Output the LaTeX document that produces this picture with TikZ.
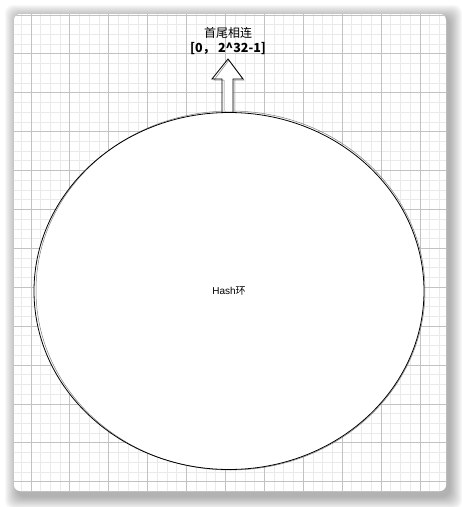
\documentclass[tikz,border=0pt]{standalone}
\usepackage{fontspec}
\setmainfont{Liberation Sans}
\newfontfamily\cjk{Noto Sans CJK SC}
\usepackage{tikz}
\usetikzlibrary{positioning,calc}
\definecolor{minorgrid}{HTML}{EAEAEA}
\definecolor{majorgrid}{HTML}{C2C2C2}

\begin{document}
\begin{tikzpicture}[x=1pt,y=-1pt,
    sketch/.style={draw=black,line width=0.8pt},
    sketchb/.style={draw=black!50,line width=0.5pt},
    lbl/.style={font=\cjk\fontsize{12}{14}\selectfont,inner sep=1pt}]
  \useasboundingbox (0,0) rectangle (462,507);
  % shadow
  \foreach \o in {1,...,13}
    \fill[black,opacity=0.028,rounded corners=8pt] ({18-\o},{18-\o}) rectangle ({449+\o},{496+\o});
  % paper with grid
  \fill[white,rounded corners=6pt] (14,14) rectangle (446,491);
  \begin{scope}
    \clip[rounded corners=6pt] (14,14) rectangle (446,491);
    \foreach \i in {-4,...,44}
      \draw[minorgrid,line width=0.9pt] ({31+9.725*\i},14) -- ({31+9.725*\i},492);
    \foreach \i in {-2,...,49}
      \draw[minorgrid,line width=0.9pt] (14,{15+9.725*\i}) -- (446,{15+9.725*\i});
    \foreach \i in {-1,...,11}
      \draw[majorgrid,line width=0.9pt] ({31+38.9*\i},14) -- ({31+38.9*\i},492);
    \foreach \i in {0,...,12}
      \draw[majorgrid,line width=0.9pt] (14,{15+38.9*\i}) -- (446,{15+38.9*\i});
  \end{scope}

  % ring
  \node (ring) at (229,291) {};
  \fill[white] (ring) ellipse (195 and 179);
  \draw[sketchb] ($(ring)+(1.5,-0.5)$) ellipse (194.5 and 179.5);
  \draw[sketch] (ring) ellipse (195 and 178.5);
  \node[font=\fontsize{10}{12}\selectfont] (hash) at (ring) {Hash{\cjk 环}};

  % arrow pointing up
  \coordinate (tip) at (228,59);
  \fill[white] (223,111) -- (223,79) -- (213,79) -- (tip) -- (243,79) -- (233,79) -- (233,111) -- cycle;
  \draw[sketchb] (224,111) -- (224,80) -- (214,80) -- ($(tip)+(1,1)$) -- (244,80) -- (234,80) -- (234,111);
  \draw[sketch] (222,112) -- (222,79) -- (212,79) -- (tip) -- (243,79) -- (233,79) -- (233,112);

  % label
  \node[lbl] (head) at (228,33) {首尾相连};
  \node[lbl,font=\cjk\bfseries\fontsize{12.5}{14}\selectfont,below=1pt of head] (range) {[0， 2\^{}32-1]};
\end{tikzpicture}
\end{document}
